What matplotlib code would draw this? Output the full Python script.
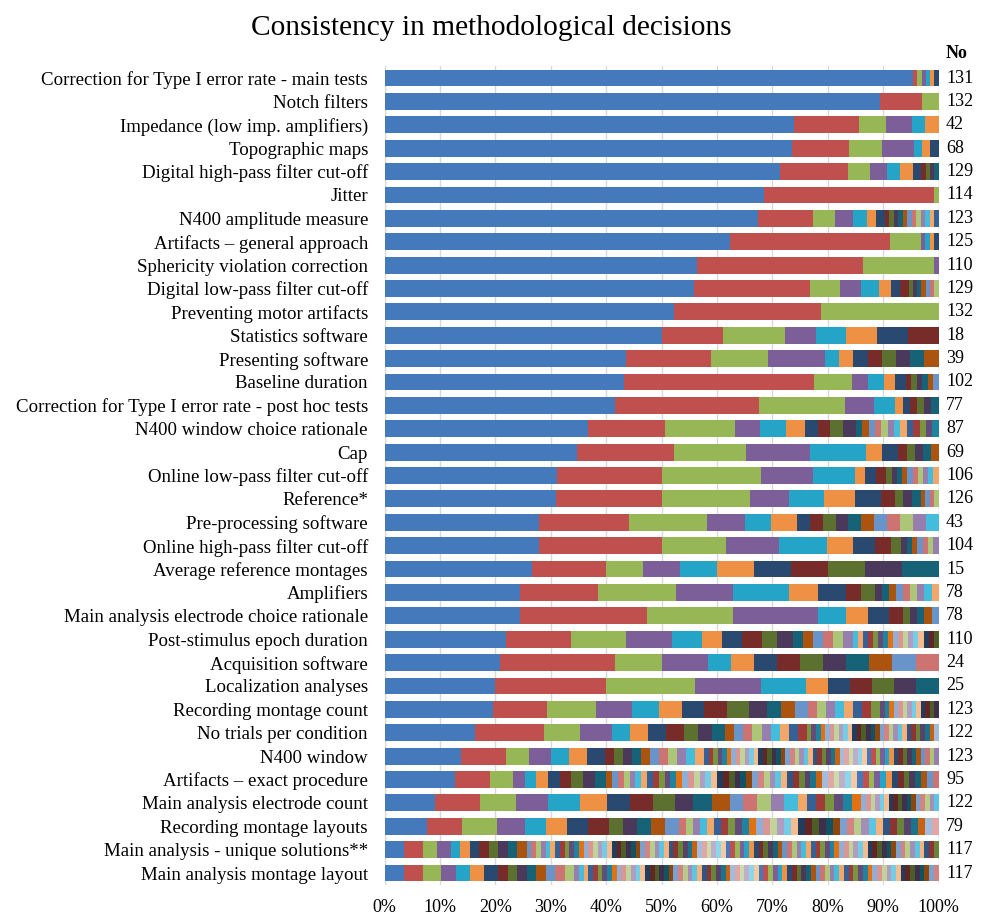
import colorsys
import matplotlib
matplotlib.use('Agg')
import matplotlib.pyplot as plt
import matplotlib.colors as mcolors
import matplotlib.transforms as mtransforms

plt.rcParams['font.family'] = ['Liberation Serif', 'DejaVu Serif']

categories = [
    'Correction for Type I error rate - main tests',
    'Notch filters',
    'Impedance (low imp. amplifiers)',
    'Topographic maps',
    'Digital high-pass filter cut-off',
    'Jitter',
    'N400 amplitude measure',
    'Artifacts \u2013 general approach',
    'Sphericity violation correction',
    'Digital low-pass filter cut-off',
    'Preventing motor artifacts',
    'Statistics software',
    'Presenting software',
    'Baseline duration',
    'Correction for Type I error rate - post hoc tests',
    'N400 window choice rationale',
    'Cap',
    'Online low-pass filter cut-off',
    'Reference*',
    'Pre-processing software',
    'Online high-pass filter cut-off',
    'Average reference montages',
    'Amplifiers',
    'Main analysis electrode choice rationale',
    'Post-stimulus epoch duration',
    'Acquisition software',
    'Localization analyses',
    'Recording montage count',
    'No trials per condition',
    'N400 window',
    'Artifacts \u2013 exact procedure',
    'Main analysis electrode count',
    'Recording montage layouts',
    'Main analysis - unique solutions**',
    'Main analysis montage layout',
]

n_studies = [131, 132, 42, 68, 129, 114, 123, 125, 110, 129, 132, 18, 39, 102, 77,
             87, 69, 106, 126, 43, 104, 15, 78, 78, 110, 24, 25, 123, 122, 123,
             95, 122, 79, 117, 117]

# number of studies per solution, most common solution first
counts = [
    [125, 1, 1, 1, 1, 1, 1],
    [118, 10, 4],
    [31, 5, 2, 2, 1, 1],
    [50, 7, 4, 4, 1, 1, 1],
    [92, 16, 5, 4, 3, 3, 2, 1, 1, 1, 1],
    [78, 35, 1],
    [83, 12, 5, 4, 3, 2, 2, 1, 1, 1, 1, 1, 1, 1, 1, 1, 1, 1, 1],
    [78, 36, 7, 1, 1, 1, 1],
    [62, 33, 14, 1],
    [72, 27, 7, 5, 4, 3, 2, 2, 1, 1, 1, 1, 1, 1, 1],
    [69, 35, 28],
    [9, 2, 2, 1, 1, 1, 1, 1],
    [17, 6, 4, 4, 1, 1, 1, 1, 1, 1, 1, 1],
    [44, 35, 7, 3, 3, 2, 2, 1, 1, 1, 1, 1, 1],
    [32, 20, 12, 4, 3, 1, 1, 1, 1, 1, 1],
    [32, 12, 11, 4, 4, 3, 2, 2, 2, 2, 1, 1, 1, 1, 1, 1, 1, 1, 1, 1, 1, 1, 1],
    [24, 12, 9, 8, 7, 2, 2, 1, 1, 1, 1, 1],
    [33, 20, 19, 10, 8, 2, 2, 2, 1, 1, 1, 1, 1, 1, 1, 1, 1, 1],
    [39, 24, 20, 9, 8, 7, 6, 3, 2, 2, 2, 1, 1, 1, 1],
    [12, 7, 6, 3, 2, 2, 1, 1, 1, 1, 1, 1, 1, 1, 1, 1, 1],
    [29, 23, 12, 10, 9, 5, 4, 3, 2, 1, 1, 1, 1, 1, 1, 1],
    [4, 2, 1, 1, 1, 1, 1, 1, 1, 1, 1],
    [19, 11, 11, 8, 8, 4, 4, 2, 2, 1, 1, 1, 1, 1, 1, 1, 1, 1],
    [19, 18, 12, 12, 4, 3, 3, 2, 1, 1, 1, 1, 1],
    [24, 13, 11, 9, 6, 4, 4, 4, 3, 3, 2, 2, 2, 2, 2, 2,
     1, 1, 1, 1, 1, 1, 1, 1, 1, 1, 1, 1, 1, 1, 1, 1, 1],
    [5, 5, 2, 2, 1, 1, 1, 1, 1, 1, 1, 1, 1, 1],
    [5, 5, 4, 3, 2, 1, 1, 1, 1, 1, 1],
    [24, 12, 11, 8, 6, 5, 5, 5, 5, 4, 3, 3, 3, 2, 2, 2, 2, 2, 2, 2, 2,
     1, 1, 1, 1, 1, 1, 1, 1, 1, 1, 1, 1, 1],
    [20, 15, 8, 7, 4, 4, 4, 4, 3, 3, 3, 2, 2, 2, 2, 2, 2, 2, 2, 2,
     1, 1, 1, 1, 1, 1, 1, 1, 1, 1, 1, 1, 1, 1, 1, 1, 1, 1, 1, 1,
     1, 1, 1, 1, 1, 1, 1, 1, 1],
    [17, 10, 5, 5, 4, 4, 4, 2, 2, 2, 2, 2, 2, 2, 2, 2, 2, 2,
     1, 1, 1, 1, 1, 1, 1, 1, 1, 1, 1, 1, 1, 1, 1, 1, 1, 1, 1, 1,
     1, 1, 1, 1, 1, 1, 1, 1, 1, 1, 1, 1, 1, 1, 1, 1, 1, 1, 1, 1,
     1, 1, 1, 1, 1, 1, 1, 1, 1, 1, 1, 1],
    [12, 6, 4, 2, 2, 2, 2, 2, 2, 2, 2,
     1, 1, 1, 1, 1, 1, 1, 1, 1, 1, 1, 1, 1, 1, 1, 1, 1, 1, 1, 1,
     1, 1, 1, 1, 1, 1, 1, 1, 1, 1, 1, 1, 1, 1, 1, 1, 1, 1, 1, 1,
     1, 1, 1, 1, 1, 1, 1, 1, 1, 1, 1, 1, 1, 1, 1, 1, 1],
    [11, 10, 8, 7, 7, 6, 5, 5, 5, 4, 4, 4, 3, 3, 3, 3, 3, 2, 2, 2, 2, 2, 2, 2,
     1, 1, 1, 1, 1, 1, 1, 1, 1, 1, 1, 1, 1, 1, 1, 1, 1],
    [6, 5, 5, 4, 3, 3, 3, 3, 2, 2, 2, 2, 2,
     1, 1, 1, 1, 1, 1, 1, 1, 1, 1, 1, 1, 1, 1, 1, 1, 1, 1, 1, 1,
     1, 1, 1, 1, 1, 1, 1, 1, 1, 1, 1, 1, 1, 1, 1, 1, 1],
    [4, 4, 3, 3, 2, 2, 2, 2, 2, 2, 2, 2,
     1, 1, 1, 1, 1, 1, 1, 1, 1, 1, 1, 1, 1, 1, 1, 1, 1, 1, 1, 1,
     1, 1, 1, 1, 1, 1, 1, 1, 1, 1, 1, 1, 1, 1, 1, 1, 1, 1, 1, 1,
     1, 1, 1, 1, 1, 1, 1, 1, 1, 1, 1, 1, 1, 1, 1, 1, 1, 1, 1, 1,
     1, 1, 1, 1, 1, 1, 1, 1, 1, 1, 1, 1, 1, 1, 1, 1, 1, 1, 1, 1,
     1, 1, 1, 1, 1, 1, 1],
    [4, 4, 4, 3, 3, 3, 3, 2, 2, 2, 2, 2, 2, 2, 2,
     1, 1, 1, 1, 1, 1, 1, 1, 1, 1, 1, 1, 1, 1, 1, 1, 1, 1, 1, 1,
     1, 1, 1, 1, 1, 1, 1, 1, 1, 1, 1, 1, 1, 1, 1, 1, 1, 1, 1, 1,
     1, 1, 1, 1, 1, 1, 1, 1, 1, 1, 1, 1, 1, 1, 1, 1, 1, 1, 1, 1,
     1, 1, 1, 1, 1, 1, 1, 1, 1, 1, 1, 1, 1, 1, 1, 1, 1],
]

# excel-like series colours: 6 accents in several shades
base_colors = ['#4479BB', '#C0504D', '#97B655', '#7C5F98', '#24A4C6', '#EF9144']
shades = [(1.0, 0.0), (0.6, 0.0), (0.8, 0.2), (0.8, 0.0), (0.6, 0.4),
          (0.5, 0.0), (0.7, 0.3), (0.7, 0.0), (0.5, 0.5)]


def shade(c, mod, off):
    r, g, b = mcolors.to_rgb(c)
    h, l, s = colorsys.rgb_to_hls(r, g, b)
    l = min(1.0, l * mod + off)
    return colorsys.hls_to_rgb(h, l, s)


palette = [shade(c, m, o) for m, o in shades for c in base_colors]

fig = plt.figure(figsize=(9.87, 9.15), dpi=100)
ax = fig.add_axes([0.3897, 0.0331, 0.5613, 0.8944])

n_rows = len(categories)
max_seg = max(len(c) for c in counts)
lefts = [0.0] * n_rows
for j in range(max_seg):
    ys, ws, ls = [], [], []
    for i in range(n_rows):
        if j < len(counts[i]):
            total = sum(counts[i])
            w = counts[i][j] / total * 100
            ys.append(i)
            ws.append(w)
            ls.append(lefts[i])
            lefts[i] += w
    ax.barh(ys, ws, left=ls, height=0.72, color=palette[j % len(palette)],
            edgecolor='none', zorder=2)

ax.set_xlim(0, 100)
ax.set_ylim(n_rows - 0.5, -0.5)
ax.set_xticks(range(0, 101, 10))
ax.set_xticklabels([f'{v}%' for v in range(0, 101, 10)], fontsize=13)
ax.set_yticks(range(n_rows))
ax.set_yticklabels(categories, fontsize=13.6)
ax.tick_params(axis='both', length=0)
ax.tick_params(axis='y', pad=12)
ax.tick_params(axis='x', pad=10)
ax.grid(axis='x', color='#D9D9D9', linewidth=1, zorder=0)
ax.set_axisbelow(True)
for sp in ax.spines.values():
    sp.set_visible(False)
ax.axvline(0, color='#D9D9D9', linewidth=1, zorder=0)
ax.axvline(100, color='#D9D9D9', linewidth=1, zorder=0)

trans = mtransforms.blended_transform_factory(ax.transAxes, ax.transData)
for i, n in enumerate(n_studies):
    ax.text(1.0135, i, str(n), transform=trans, ha='left', va='center', fontsize=13)

fig.text(946 / 987, 1 - 54 / 915, 'No', ha='left', va='center', fontsize=13,
         fontweight='bold')
fig.text(491 / 987, 1 - 28 / 915, 'Consistency in methodological decisions',
         ha='center', va='center', fontsize=21.2)

fig.savefig('out.png', dpi=100)
